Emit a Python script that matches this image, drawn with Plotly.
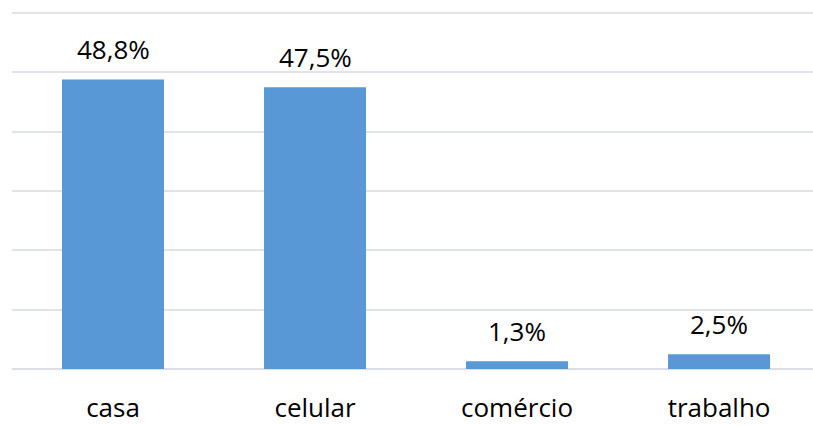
import plotly.graph_objects as go

categories = ["casa", "celular", "comércio", "trabalho"]
values = [48.8, 47.5, 1.3, 2.5]
labels = ["48,8%", "47,5%", "1,3%", "2,5%"]

fig = go.Figure()
fig.add_trace(go.Bar(
    x=categories, y=values, width=0.505,
    marker=dict(color="#5898D6", line=dict(width=0)),
    hoverinfo="skip",
))
for c, v, t in zip(categories, values, labels):
    fig.add_annotation(x=c, y=v, text=t, showarrow=False, yanchor="bottom",
                       yshift=10, font=dict(family="Open Sans", size=26, color="#000000"))

fig.update_layout(
    width=813, height=425,
    margin=dict(l=12, r=0, t=10, b=52),
    paper_bgcolor="white", plot_bgcolor="white",
    showlegend=False,
    xaxis=dict(range=[-0.5, 3.465], showgrid=False, zeroline=False, showline=False,
               ticks="outside", ticklen=16, tickcolor="rgba(0,0,0,0)",
               tickfont=dict(family="Open Sans", size=26, color="#000000")),
    yaxis=dict(range=[0, 60.5], tickvals=[10, 20, 30, 40, 50, 60], showgrid=True,
               gridcolor="#E1E3E8", gridwidth=2,
               showticklabels=False, zeroline=True, zerolinecolor="#DCDEE3", zerolinewidth=2,
               showline=False),
)
fig.write_html("out.html")
